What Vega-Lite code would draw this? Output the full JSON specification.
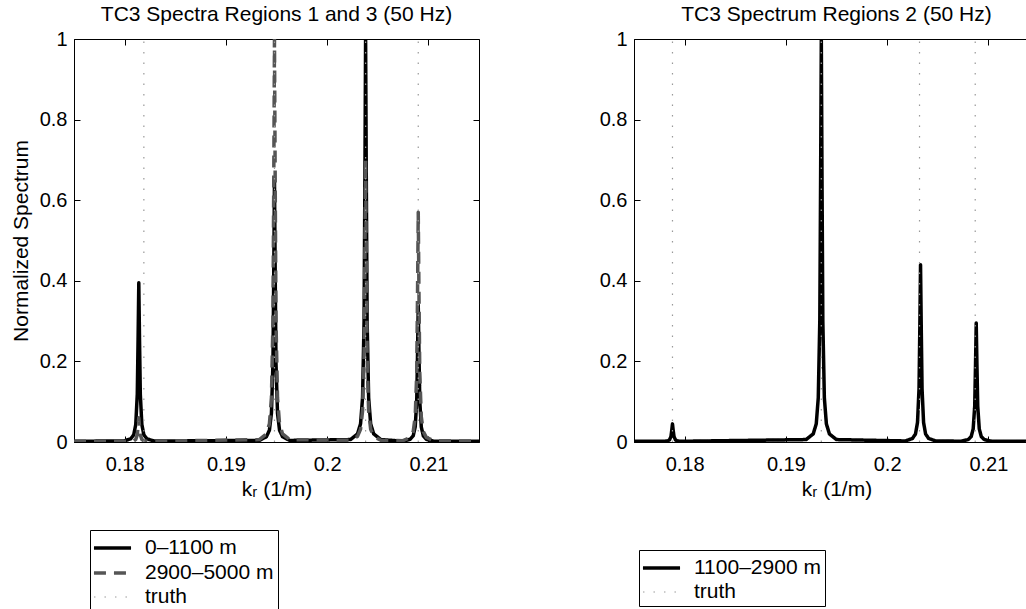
{
  "$schema": "https://vega.github.io/schema/vega-lite/v6.json",
  "padding": {"left": 9, "top": 3, "right": 0, "bottom": 0},
  "spacing": 115,
  "config": {
    "font": "Liberation Sans",
    "view": {"stroke": "black", "strokeWidth": 1},
    "axis": {"grid": false, "domainColor": "black", "tickColor": "black", "labelColor": "black", "titleColor": "black", "labelFontSize": 20, "titleFontSize": 21, "titleFontWeight": "normal", "tickSize": -6},
    "title": {"fontSize": 21, "fontWeight": "normal", "color": "black", "offset": 0},
    "legend": {"labelFontSize": 21, "labelColor": "black", "strokeColor": "black", "fillColor": "white", "padding": 4, "rowPadding": 1, "symbolType": "M-1.17,0H1.92", "symbolSize": 576, "labelOffset": 23}
  },
  "datasets": {
    "L": [
      {"s": "0–1100 m", "k": 0.175, "v": 0.002},
      {"s": "0–1100 m", "k": 0.1799, "v": 0.0024}, {"s": "0–1100 m", "k": 0.1806, "v": 0.0079}, {"s": "0–1100 m", "k": 0.1809, "v": 0.0178}, {"s": "0–1100 m", "k": 0.1811, "v": 0.0435}, {"s": "0–1100 m", "k": 0.18125, "v": 0.1185}, {"s": "0–1100 m", "k": 0.18133, "v": 0.2568}, {"s": "0–1100 m", "k": 0.1814, "v": 0.395}, {"s": "0–1100 m", "k": 0.18147, "v": 0.2568}, {"s": "0–1100 m", "k": 0.18155, "v": 0.1185}, {"s": "0–1100 m", "k": 0.1817, "v": 0.0435}, {"s": "0–1100 m", "k": 0.1819, "v": 0.0178}, {"s": "0–1100 m", "k": 0.1822, "v": 0.0079}, {"s": "0–1100 m", "k": 0.1829, "v": 0.0024},
      {"s": "0–1100 m", "k": 0.1933, "v": 0.0039}, {"s": "0–1100 m", "k": 0.194, "v": 0.013}, {"s": "0–1100 m", "k": 0.1943, "v": 0.0293}, {"s": "0–1100 m", "k": 0.1945, "v": 0.0715}, {"s": "0–1100 m", "k": 0.19465, "v": 0.195}, {"s": "0–1100 m", "k": 0.19473, "v": 0.4225}, {"s": "0–1100 m", "k": 0.1948, "v": 0.65}, {"s": "0–1100 m", "k": 0.19487, "v": 0.4225}, {"s": "0–1100 m", "k": 0.19495, "v": 0.195}, {"s": "0–1100 m", "k": 0.1951, "v": 0.0715}, {"s": "0–1100 m", "k": 0.1953, "v": 0.0293}, {"s": "0–1100 m", "k": 0.1956, "v": 0.013}, {"s": "0–1100 m", "k": 0.1963, "v": 0.0039},
      {"s": "0–1100 m", "k": 0.2023, "v": 0.006}, {"s": "0–1100 m", "k": 0.203, "v": 0.02}, {"s": "0–1100 m", "k": 0.2033, "v": 0.045}, {"s": "0–1100 m", "k": 0.2035, "v": 0.11}, {"s": "0–1100 m", "k": 0.20365, "v": 0.3}, {"s": "0–1100 m", "k": 0.20373, "v": 0.65}, {"s": "0–1100 m", "k": 0.2038, "v": 1}, {"s": "0–1100 m", "k": 0.20387, "v": 0.65}, {"s": "0–1100 m", "k": 0.20395, "v": 0.3}, {"s": "0–1100 m", "k": 0.2041, "v": 0.11}, {"s": "0–1100 m", "k": 0.2043, "v": 0.045}, {"s": "0–1100 m", "k": 0.2046, "v": 0.02}, {"s": "0–1100 m", "k": 0.2053, "v": 0.006},
      {"s": "0–1100 m", "k": 0.2075, "v": 0.002}, {"s": "0–1100 m", "k": 0.2082, "v": 0.0068}, {"s": "0–1100 m", "k": 0.2085, "v": 0.0153}, {"s": "0–1100 m", "k": 0.2087, "v": 0.0374}, {"s": "0–1100 m", "k": 0.20885, "v": 0.102}, {"s": "0–1100 m", "k": 0.20893, "v": 0.221}, {"s": "0–1100 m", "k": 0.209, "v": 0.34}, {"s": "0–1100 m", "k": 0.20907, "v": 0.221}, {"s": "0–1100 m", "k": 0.20915, "v": 0.102}, {"s": "0–1100 m", "k": 0.2093, "v": 0.0374}, {"s": "0–1100 m", "k": 0.2095, "v": 0.0153}, {"s": "0–1100 m", "k": 0.2098, "v": 0.0068}, {"s": "0–1100 m", "k": 0.2105, "v": 0.002},
      {"s": "0–1100 m", "k": 0.215, "v": 0.002},
      {"s": "2900–5000 m", "k": 0.175, "v": 0.002},
      {"s": "2900–5000 m", "k": 0.1799, "v": 0.002}, {"s": "2900–5000 m", "k": 0.1806, "v": 0.002}, {"s": "2900–5000 m", "k": 0.1809, "v": 0.0027}, {"s": "2900–5000 m", "k": 0.1811, "v": 0.0066}, {"s": "2900–5000 m", "k": 0.18125, "v": 0.018}, {"s": "2900–5000 m", "k": 0.18133, "v": 0.039}, {"s": "2900–5000 m", "k": 0.1814, "v": 0.06}, {"s": "2900–5000 m", "k": 0.18147, "v": 0.039}, {"s": "2900–5000 m", "k": 0.18155, "v": 0.018}, {"s": "2900–5000 m", "k": 0.1817, "v": 0.0066}, {"s": "2900–5000 m", "k": 0.1819, "v": 0.0027}, {"s": "2900–5000 m", "k": 0.1822, "v": 0.002}, {"s": "2900–5000 m", "k": 0.1829, "v": 0.002},
      {"s": "2900–5000 m", "k": 0.1933, "v": 0.006}, {"s": "2900–5000 m", "k": 0.194, "v": 0.02}, {"s": "2900–5000 m", "k": 0.1943, "v": 0.045}, {"s": "2900–5000 m", "k": 0.1945, "v": 0.11}, {"s": "2900–5000 m", "k": 0.19465, "v": 0.3}, {"s": "2900–5000 m", "k": 0.19473, "v": 0.65}, {"s": "2900–5000 m", "k": 0.1948, "v": 1}, {"s": "2900–5000 m", "k": 0.19487, "v": 0.65}, {"s": "2900–5000 m", "k": 0.19495, "v": 0.3}, {"s": "2900–5000 m", "k": 0.1951, "v": 0.11}, {"s": "2900–5000 m", "k": 0.1953, "v": 0.045}, {"s": "2900–5000 m", "k": 0.1956, "v": 0.02}, {"s": "2900–5000 m", "k": 0.1963, "v": 0.006},
      {"s": "2900–5000 m", "k": 0.2023, "v": 0.0042}, {"s": "2900–5000 m", "k": 0.203, "v": 0.014}, {"s": "2900–5000 m", "k": 0.2033, "v": 0.0315}, {"s": "2900–5000 m", "k": 0.2035, "v": 0.077}, {"s": "2900–5000 m", "k": 0.20365, "v": 0.21}, {"s": "2900–5000 m", "k": 0.20373, "v": 0.455}, {"s": "2900–5000 m", "k": 0.2038, "v": 0.7}, {"s": "2900–5000 m", "k": 0.20387, "v": 0.455}, {"s": "2900–5000 m", "k": 0.20395, "v": 0.21}, {"s": "2900–5000 m", "k": 0.2041, "v": 0.077}, {"s": "2900–5000 m", "k": 0.2043, "v": 0.0315}, {"s": "2900–5000 m", "k": 0.2046, "v": 0.014}, {"s": "2900–5000 m", "k": 0.2053, "v": 0.0042},
      {"s": "2900–5000 m", "k": 0.2075, "v": 0.0034}, {"s": "2900–5000 m", "k": 0.2082, "v": 0.0114}, {"s": "2900–5000 m", "k": 0.2085, "v": 0.0257}, {"s": "2900–5000 m", "k": 0.2087, "v": 0.0627}, {"s": "2900–5000 m", "k": 0.20885, "v": 0.171}, {"s": "2900–5000 m", "k": 0.20893, "v": 0.3705}, {"s": "2900–5000 m", "k": 0.209, "v": 0.57}, {"s": "2900–5000 m", "k": 0.20907, "v": 0.3705}, {"s": "2900–5000 m", "k": 0.20915, "v": 0.171}, {"s": "2900–5000 m", "k": 0.2093, "v": 0.0627}, {"s": "2900–5000 m", "k": 0.2095, "v": 0.0257}, {"s": "2900–5000 m", "k": 0.2098, "v": 0.0114}, {"s": "2900–5000 m", "k": 0.2105, "v": 0.0034},
      {"s": "2900–5000 m", "k": 0.215, "v": 0.002},
      {"s": "truth", "g": "a", "k": 0.1819, "v": 0}, {"s": "truth", "g": "a", "k": 0.1819, "v": 1},
      {"s": "truth", "g": "b", "k": 0.1948, "v": 0}, {"s": "truth", "g": "b", "k": 0.1948, "v": 1},
      {"s": "truth", "g": "c", "k": 0.2038, "v": 0}, {"s": "truth", "g": "c", "k": 0.2038, "v": 1},
      {"s": "truth", "g": "d", "k": 0.209, "v": 0}, {"s": "truth", "g": "d", "k": 0.209, "v": 1}
    ],
    "R": [
      {"s": "1100–2900 m", "k": 0.175, "v": 0.002},
      {"s": "1100–2900 m", "k": 0.1773, "v": 0.002}, {"s": "1100–2900 m", "k": 0.178, "v": 0.002}, {"s": "1100–2900 m", "k": 0.1783, "v": 0.0025}, {"s": "1100–2900 m", "k": 0.1785, "v": 0.005}, {"s": "1100–2900 m", "k": 0.17865, "v": 0.0135}, {"s": "1100–2900 m", "k": 0.17873, "v": 0.029}, {"s": "1100–2900 m", "k": 0.1788, "v": 0.045}, {"s": "1100–2900 m", "k": 0.17887, "v": 0.029}, {"s": "1100–2900 m", "k": 0.17895, "v": 0.0135}, {"s": "1100–2900 m", "k": 0.1791, "v": 0.005}, {"s": "1100–2900 m", "k": 0.1793, "v": 0.0025}, {"s": "1100–2900 m", "k": 0.1796, "v": 0.002}, {"s": "1100–2900 m", "k": 0.1803, "v": 0.002},
      {"s": "1100–2900 m", "k": 0.192, "v": 0.006}, {"s": "1100–2900 m", "k": 0.1927, "v": 0.02}, {"s": "1100–2900 m", "k": 0.193, "v": 0.045}, {"s": "1100–2900 m", "k": 0.1932, "v": 0.11}, {"s": "1100–2900 m", "k": 0.19335, "v": 0.3}, {"s": "1100–2900 m", "k": 0.19343, "v": 0.65}, {"s": "1100–2900 m", "k": 0.1935, "v": 1}, {"s": "1100–2900 m", "k": 0.19357, "v": 0.65}, {"s": "1100–2900 m", "k": 0.19365, "v": 0.3}, {"s": "1100–2900 m", "k": 0.1938, "v": 0.11}, {"s": "1100–2900 m", "k": 0.194, "v": 0.045}, {"s": "1100–2900 m", "k": 0.1943, "v": 0.02}, {"s": "1100–2900 m", "k": 0.195, "v": 0.006},
      {"s": "1100–2900 m", "k": 0.2018, "v": 0.0026}, {"s": "1100–2900 m", "k": 0.2025, "v": 0.0088}, {"s": "1100–2900 m", "k": 0.2028, "v": 0.0198}, {"s": "1100–2900 m", "k": 0.203, "v": 0.0484}, {"s": "1100–2900 m", "k": 0.20315, "v": 0.132}, {"s": "1100–2900 m", "k": 0.20323, "v": 0.286}, {"s": "1100–2900 m", "k": 0.2033, "v": 0.44}, {"s": "1100–2900 m", "k": 0.20337, "v": 0.286}, {"s": "1100–2900 m", "k": 0.20345, "v": 0.132}, {"s": "1100–2900 m", "k": 0.2036, "v": 0.0484}, {"s": "1100–2900 m", "k": 0.2038, "v": 0.0198}, {"s": "1100–2900 m", "k": 0.2041, "v": 0.0088}, {"s": "1100–2900 m", "k": 0.2048, "v": 0.0026},
      {"s": "1100–2900 m", "k": 0.2073, "v": 0.002}, {"s": "1100–2900 m", "k": 0.208, "v": 0.0059}, {"s": "1100–2900 m", "k": 0.2083, "v": 0.0133}, {"s": "1100–2900 m", "k": 0.2085, "v": 0.0325}, {"s": "1100–2900 m", "k": 0.20865, "v": 0.0885}, {"s": "1100–2900 m", "k": 0.20873, "v": 0.1918}, {"s": "1100–2900 m", "k": 0.2088, "v": 0.295}, {"s": "1100–2900 m", "k": 0.20887, "v": 0.1918}, {"s": "1100–2900 m", "k": 0.20895, "v": 0.0885}, {"s": "1100–2900 m", "k": 0.2091, "v": 0.0325}, {"s": "1100–2900 m", "k": 0.2093, "v": 0.0133}, {"s": "1100–2900 m", "k": 0.2096, "v": 0.0059}, {"s": "1100–2900 m", "k": 0.2103, "v": 0.002},
      {"s": "1100–2900 m", "k": 0.215, "v": 0.002},
      {"s": "truth", "g": "a", "k": 0.1788, "v": 0}, {"s": "truth", "g": "a", "k": 0.1788, "v": 1},
      {"s": "truth", "g": "b", "k": 0.1935, "v": 0}, {"s": "truth", "g": "b", "k": 0.1935, "v": 1},
      {"s": "truth", "g": "c", "k": 0.2032, "v": 0}, {"s": "truth", "g": "c", "k": 0.2032, "v": 1},
      {"s": "truth", "g": "d", "k": 0.2087, "v": 0}, {"s": "truth", "g": "d", "k": 0.2087, "v": 1}
    ]
  },
  "hconcat": [
    {
      "width": 405,
      "height": 403,
      "title": "TC3 Spectra Regions 1 and 3 (50 Hz)",
      "data": {"name": "L"},
      "resolve": {"axis": {"x": "independent", "y": "independent"}},
      "layer": [
        {
          "mark": {"type": "line", "clip": true, "strokeJoin": "round"},
          "encoding": {
            "x": {"field": "k", "type": "quantitative", "scale": {"domain": [0.175, 0.215], "nice": false, "zero": false},
                  "axis": {"values": [0.18, 0.19, 0.2, 0.21], "format": "~g", "labelPadding": 18, "title": "kᵣ (1/m)", "titlePadding": 4}},
            "y": {"field": "v", "type": "quantitative", "scale": {"domain": [0, 1], "nice": false},
                  "axis": {"values": [0, 0.2, 0.4, 0.6, 0.8, 1], "format": "~g", "labelPadding": 13, "title": "Normalized Spectrum", "titlePadding": 8}},
            "detail": {"field": "g"},
            "color": {"field": "s", "type": "nominal", "scale": {"domain": ["0–1100 m", "2900–5000 m", "truth"], "range": ["#000000", "#555555", "#999999"]},
                      "legend": {"orient": "none", "legendX": 16, "legendY": 491, "title": null}},
            "strokeDash": {"field": "s", "type": "nominal", "scale": {"domain": ["0–1100 m", "2900–5000 m", "truth"], "range": [[1, 0], [12, 8], [1.5, 9]]},
                      "legend": {"orient": "none", "legendX": 16, "legendY": 491, "title": null}},
            "strokeWidth": {"field": "s", "type": "nominal", "scale": {"type": "ordinal", "domain": ["0–1100 m", "2900–5000 m", "truth"], "range": [3.5, 3.5, 1.2]},
                      "legend": {"orient": "none", "legendX": 16, "legendY": 491, "title": null}}
          }
        },
        {
          "mark": {"type": "point", "opacity": 0},
          "encoding": {
            "x": {"field": "k", "type": "quantitative", "axis": {"orient": "top", "values": [0.18, 0.19, 0.2, 0.21], "labels": false, "title": null, "domain": false}},
            "y": {"field": "v", "type": "quantitative", "axis": {"orient": "right", "values": [0, 0.2, 0.4, 0.6, 0.8, 1], "labels": false, "title": null, "domain": false}}
          }
        }
      ]
    },
    {
      "width": 405,
      "height": 403,
      "title": "TC3 Spectrum Regions 2 (50 Hz)",
      "data": {"name": "R"},
      "resolve": {"axis": {"x": "independent", "y": "independent"}},
      "layer": [
        {
          "mark": {"type": "line", "clip": true, "strokeJoin": "round"},
          "encoding": {
            "x": {"field": "k", "type": "quantitative", "scale": {"domain": [0.175, 0.215], "nice": false, "zero": false},
                  "axis": {"values": [0.18, 0.19, 0.2, 0.21], "format": "~g", "labelPadding": 18, "title": "kᵣ (1/m)", "titlePadding": 4}},
            "y": {"field": "v", "type": "quantitative", "scale": {"domain": [0, 1], "nice": false},
                  "axis": {"values": [0, 0.2, 0.4, 0.6, 0.8, 1], "format": "~g", "labelPadding": 13, "title": null}},
            "detail": {"field": "g"},
            "color": {"field": "s", "type": "nominal", "scale": {"domain": ["1100–2900 m", "truth"], "range": ["#000000", "#999999"]},
                      "legend": {"orient": "none", "legendX": 5, "legendY": 511, "title": null}},
            "strokeDash": {"field": "s", "type": "nominal", "scale": {"domain": ["1100–2900 m", "truth"], "range": [[1, 0], [1.5, 9]]},
                      "legend": {"orient": "none", "legendX": 5, "legendY": 511, "title": null}},
            "strokeWidth": {"field": "s", "type": "nominal", "scale": {"type": "ordinal", "domain": ["1100–2900 m", "truth"], "range": [3.5, 1.2]},
                      "legend": {"orient": "none", "legendX": 5, "legendY": 511, "title": null}}
          }
        },
        {
          "mark": {"type": "point", "opacity": 0},
          "encoding": {
            "x": {"field": "k", "type": "quantitative", "axis": {"orient": "top", "values": [0.18, 0.19, 0.2, 0.21], "labels": false, "title": null, "domain": false}},
            "y": {"field": "v", "type": "quantitative", "axis": {"orient": "right", "values": [0, 0.2, 0.4, 0.6, 0.8, 1], "labels": false, "title": null, "domain": false}}
          }
        }
      ]
    }
  ],
  "resolve": {
    "scale": {"color": "independent", "strokeDash": "independent", "strokeWidth": "independent"},
    "legend": {"color": "independent", "strokeDash": "independent", "strokeWidth": "independent"}
  }
}
